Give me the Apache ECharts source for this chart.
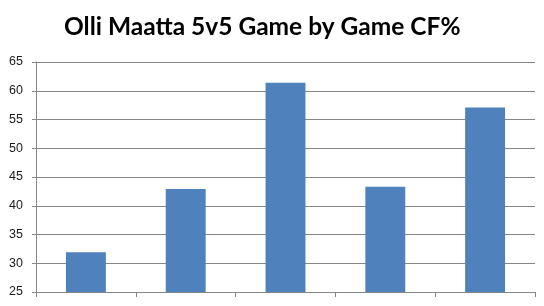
<!DOCTYPE html>
<html>
<head>
<meta charset="utf-8">
<script src="https://cdn.jsdelivr.net/npm/echarts@6/dist/echarts.min.js"></script>
<style>
html,body{margin:0;padding:0;background:#fff;}
#chart{width:544px;height:306px;}
</style>
</head>
<body>
<div id="chart"></div>
<script>
const titleText = "Olli Maatta 5v5 Game by Game CF%";
const games = ["1", "2", "3", "4", "5"];
const cfPct = [31.9, 42.9, 61.4, 43.3, 57.1];
const yMin = 25, yMax = 65, yStep = 5;

const chart = echarts.init(document.getElementById('chart'), null, {renderer: 'canvas'});
chart.setOption({
  animation: false,
  backgroundColor: '#ffffff',
  title: {
    text: titleText,
    left: 59,
    top: 10,
    textStyle: {fontFamily: 'Lato', fontWeight: 'bold', fontSize: 24.5, color: '#000'}
  },
  grid: {left: 36, right: 9, top: 62, bottom: 14, containLabel: false},
  xAxis: {
    type: 'category',
    data: games,
    boundaryGap: true,
    axisLine: {show: true, lineStyle: {color: '#868686', width: 1}},
    axisTick: {show: true, length: 5, alignWithLabel: false, lineStyle: {color: '#868686'}},
    axisLabel: {show: false},
    splitLine: {show: false}
  },
  yAxis: {
    type: 'value',
    min: yMin, max: yMax, interval: yStep,
    axisLine: {show: true, lineStyle: {color: '#868686', width: 1}},
    axisTick: {show: true, length: 4, lineStyle: {color: '#868686'}},
    axisLabel: {fontFamily: 'Liberation Sans', fontSize: 12.5, color: '#1a1a1a', margin: 13},
    splitLine: {show: true, lineStyle: {color: '#868686', width: 1}}
  },
  series: [{
    type: 'bar',
    data: cfPct,
    barWidth: '40%',
    itemStyle: {color: '#4F81BD'}
  }]
});
</script>
</body>
</html>
